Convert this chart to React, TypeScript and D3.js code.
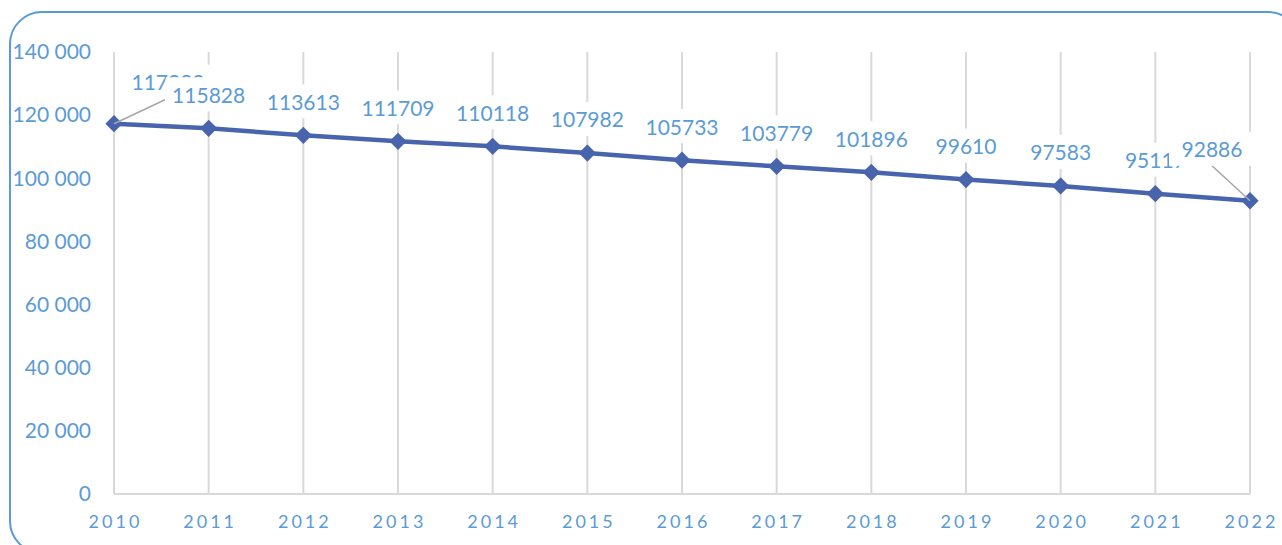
import React from "react";
import * as d3 from "d3";

const years = ["2010", "2011", "2012", "2013", "2014", "2015", "2016", "2017", "2018", "2019", "2020", "2021", "2022"];
const population = [117282, 115828, 113613, 111709, 110118, 107982, 105733, 103779, 101896, 99610, 97583, 95117, 92886];
const yTicks = [0, 20000, 40000, 60000, 80000, 100000, 120000, 140000];
// labels that Excel moved off their points, with a leader line
const movedLabels: Record<string, [number, number]> = { "2010": [54, -41], "2022": [-38, -51] };

const W = 1282;
const H = 545;
const blue = "#5b9bd5";
const lineColor = "#4764ad";
const font = "Lato, 'Open Sans', sans-serif";

const App = () => {
  const x = d3.scalePoint<string>().domain(years).range([114, 1250]);
  const y = d3.scaleLinear().domain([0, 140000]).range([494, 52]);
  const fmt = (v: number) => d3.format(",")(v).replace(/,/g, " ");

  const line = d3
    .line<number>()
    .x((d, i) => x(years[i]) as number)
    .y(d => y(d));

  const diamond = d3.symbol().type(d3.symbolDiamond2).size(190)();

  const labels = population.map((v, i) => {
    const px = x(years[i]) as number;
    const py = y(v);
    const off = movedLabels[years[i]] || [0, -33];
    return { v, px, py, lx: px + off[0], ly: py + off[1], moved: !!movedLabels[years[i]] };
  });

  return (
    <div style={{ position: "absolute", left: 0, top: 0 }}>
      <svg width={W} height={H} style={{ display: "block", fontFamily: font }}>
        <rect x={10} y={12} width={1290} height={541} rx={32} fill="#fff" stroke={blue} strokeWidth={2} />

        {years.map(yr => (
          <line key={yr} x1={x(yr)} x2={x(yr)} y1={y(140000)} y2={y(0)} stroke="#d9d9d9" strokeWidth={2} />
        ))}
        <line x1={x(years[0])} x2={x(years[years.length - 1])} y1={y(0)} y2={y(0)} stroke="#d9d9d9" strokeWidth={2} />

        {yTicks.map(t => (
          <text key={t} x={91} y={y(t)} dy="0.35em" textAnchor="end" fill={blue} fontSize={21}>
            {fmt(t)}
          </text>
        ))}

        {years.map(yr => (
          <text key={yr} x={(x(yr) as number) + 1.5} y={522} dy="0.35em" textAnchor="middle" fill={blue} fontSize={18} letterSpacing={3}>
            {yr}
          </text>
        ))}

        <path d={line(population) || ""} fill="none" stroke={lineColor} strokeWidth={4.5} />
        {labels.map((l, i) => (
          <path key={i} d={diamond || ""} transform={`translate(${l.px},${l.py})`} fill={lineColor} />
        ))}

        {labels.filter(l => l.moved).map((l, i) => {
          const left = l.lx < l.px;
          return (
            <line key={i} x1={l.px} y1={l.py} x2={left ? l.lx : l.lx - 3} y2={left ? l.ly + 16 : l.ly + 17} stroke="#a6a6a6" strokeWidth={1.5} />
          );
        })}

        {labels.map((l, i) => (
          <g key={i} transform={`translate(${l.lx},${l.ly})`}>
            <rect x={-43} y={-18} width={86} height={34} fill="#fff" />
            <text textAnchor="middle" dy="0.35em" fill={blue} fontSize={21}>
              {l.v}
            </text>
          </g>
        ))}
      </svg>
    </div>
  );
};

export default App;
